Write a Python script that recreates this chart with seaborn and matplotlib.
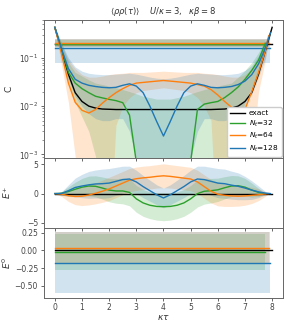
import numpy as np
import matplotlib
matplotlib.use("Agg")
import matplotlib.pyplot as plt
import matplotlib.lines as mlines
import seaborn as sns

# ---------------- data ----------------
tau_exact = np.arange(33) * 0.25
tau_32 = np.arange(32) * 0.25
tau_64 = np.append(np.arange(32) * 0.25, 7.875)
tau_128 = np.append(np.arange(32) * 0.25, 7.9375)

OFF = 1e-5  # below the visible range (non-positive estimate)

c_exact = [0.43, 0.14, 0.046, 0.019, 0.0125, 0.0100, 0.0091, 0.0087, 0.0086,
           0.0085, 0.0085, 0.0085, 0.0085, 0.0085, 0.0085, 0.0085, 0.0085,
           0.0085, 0.0085, 0.0085, 0.0085, 0.0085, 0.0085, 0.0085,
           0.0086, 0.0087, 0.0091, 0.0100, 0.0125, 0.019, 0.046, 0.14, 0.43]
c_32 = [0.43, 0.15, 0.05, 0.03, 0.023, 0.019, 0.016, 0.0148, 0.0138, 0.013, 0.0118,
        0.0065, 0.0007, OFF, OFF, OFF, OFF, OFF, OFF, OFF, 0.0007, 0.0085, 0.011,
        0.0118, 0.0125, 0.015, 0.019, 0.025, 0.036, 0.055, 0.09, 0.2]
c_32_hi = [0.45, 0.2, 0.08, 0.05, 0.042, 0.035, 0.03, 0.028, 0.026, 0.024, 0.022,
           0.02, 0.018, 0.016, 0.015, 0.014, 0.014, 0.014, 0.015, 0.016, 0.018, 0.02,
           0.022, 0.024, 0.026, 0.028, 0.03, 0.04, 0.055, 0.08, 0.13, 0.24]
c_32_lo = [0.41, 0.1, 0.03, 0.012, 0.006, 0.003, 0.0009] + [OFF] * 19 + \
          [0.0009, 0.004, 0.012, 0.025, 0.05, 0.17]
c_64 = [0.43, 0.12, 0.03, 0.012, 0.0082, 0.0072, 0.0085, 0.0115, 0.015, 0.019, 0.023,
        0.027, 0.030, 0.031, 0.032, 0.033, 0.034, 0.033, 0.032, 0.031, 0.030, 0.028,
        0.026, 0.022, 0.017, 0.0125, 0.0095, 0.0072, 0.0085, 0.02, 0.05, 0.14, 0.29]
c_64_hi = [0.45, 0.18, 0.09, 0.06, 0.045, 0.04, 0.04, 0.042, 0.045, 0.047, 0.048,
           0.05, 0.05, 0.05, 0.051, 0.052, 0.053, 0.052, 0.051, 0.05, 0.05, 0.05,
           0.048, 0.047, 0.045, 0.042, 0.04, 0.04, 0.045, 0.06, 0.1, 0.22, 0.32]
c_64_lo = [0.41, 0.07, 0.012, 0.0009] + [OFF] * 5 + \
          [0.004, 0.01, 0.015, 0.019, 0.021, 0.022, 0.023, 0.024, 0.023, 0.022,
           0.021, 0.019, 0.015, 0.01, 0.005] + [OFF] * 5 + [0.001, 0.02, 0.09, 0.26]
c_128 = [0.43, 0.15, 0.06, 0.036, 0.030, 0.027, 0.0255, 0.0245, 0.024, 0.0245, 0.027,
         0.029, 0.026, 0.019, 0.010, 0.0048, 0.0024, 0.0048, 0.010, 0.019, 0.026,
         0.029, 0.027, 0.0245, 0.024, 0.0245, 0.0255, 0.028, 0.033, 0.045, 0.075,
         0.16, 0.33]
c_128_hi = [0.45, 0.2, 0.1, 0.065, 0.053, 0.048, 0.046, 0.045, 0.045, 0.046, 0.047,
            0.048, 0.046, 0.043, 0.04, 0.038, 0.037, 0.038, 0.04, 0.043, 0.046, 0.048,
            0.047, 0.046, 0.045, 0.045, 0.046, 0.048, 0.055, 0.07, 0.11, 0.22, 0.36]
c_128_lo = [0.41, 0.1, 0.035, 0.016, 0.01, 0.007, 0.0055, 0.005, 0.005, 0.0055,
            0.0055, 0.003, 0.0008] + [OFF] * 7 + \
           [0.0008, 0.003, 0.0055, 0.0055, 0.005, 0.005, 0.0055, 0.007, 0.01, 0.018,
            0.04, 0.1, 0.3]

# constant levels shown in the C panel (value, low, high)
cflat_exact = 0.19
cflat_32 = [0.19, 0.17, 0.24]
cflat_64 = [0.20, 0.17, 0.245]
cflat_128 = [0.16, 0.079, 0.245]

# E+ panel
ep_exact = 0.0
ep_32 = [0, 0.05, 0.35, 0.75, 1.1, 1.3, 1.25, 0.95, 0.6, 0.45, 0.45, 0.2, -0.9, -1.6,
         -2.0, -2.2, -2.25, -2.2, -2.0, -1.6, -0.9, 0.0, 0.4, 0.5, 0.65, 1.0, 1.3,
         1.35, 1.1, 0.6, 0.2, 0]
ep_32_err = [0, 0.3, 0.8, 1.2, 1.5, 1.7, 1.8, 1.9, 2.0, 2.1, 2.2, 2.3, 2.3, 2.3, 2.3,
             2.35, 2.4, 2.35, 2.3, 2.3, 2.3, 2.3, 2.2, 2.1, 2.0, 1.9, 1.8, 1.7, 1.5,
             1.2, 0.7, 0]
ep_64 = [0, -0.1, -0.35, -0.5, -0.45, -0.25, 0.05, 0.4, 0.8, 1.3, 1.8, 2.3, 2.55,
         2.7, 2.8, 2.95, 3.05, 2.95, 2.8, 2.65, 2.5, 2.0, 1.2, 0.4, -0.1, -0.3, -0.4,
         -0.45, -0.4, -0.3, -0.2, -0.05, 0]
ep_64_err = [0, 0.4, 1.0, 1.4, 1.6, 1.7, 1.8, 1.9, 2.0, 2.0, 2.0, 2.0, 2.0, 2.0, 2.0,
             2.0, 2.05, 2.0, 2.0, 2.0, 2.0, 2.0, 2.0, 2.0, 2.0, 1.9, 1.8, 1.7, 1.6,
             1.4, 1.0, 0.4, 0]
ep_128 = [0, 0.02, 0.5, 1.05, 1.3, 1.5, 1.65, 1.7, 1.8, 2.1, 2.4, 2.5, 2.0, 1.2, 0.5,
          -0.2, -0.75, -0.2, 0.5, 1.2, 2.0, 2.5, 2.4, 2.1, 1.8, 1.7, 1.45, 1.25, 0.95,
          0.6, 0.3, 0.08, 0]
ep_128_err = [0, 0.3, 1.0, 1.6, 2.0, 2.3, 2.4, 2.5, 2.5, 2.4, 2.3, 2.2, 2.0, 1.9,
              1.8, 1.7, 1.7, 1.7, 1.8, 1.9, 2.0, 2.2, 2.3, 2.4, 2.5, 2.5, 2.4, 2.3,
              2.0, 1.6, 1.0, 0.3, 0]

# E0 panel (value, low, high)
e0_exact = 0.0
e0_32 = [-0.02, -0.27, 0.23]
e0_64 = [0.035, -0.19, 0.26]
e0_128 = [-0.183, -0.60, 0.26]

labels = ["exact", "$N_t$=32", "$N_t$=64", "$N_t$=128"]
col_exact = "black"
col_32 = "#2ca02c"
col_64 = "#ff7f0e"
col_128 = "#1f77b4"

# ---------------- style ----------------
plt.rcParams.update({
    "font.family": ["DejaVu Sans"],
    "font.size": 5.5,
    "axes.edgecolor": "#666666",
    "xtick.color": "#666666",
    "ytick.color": "#666666",
    "xtick.labelcolor": "#444444",
    "ytick.labelcolor": "#444444",
    "axes.labelcolor": "#333333",
    "xtick.labelsize": 5.5,
    "ytick.labelsize": 5.5,
    "axes.labelsize": 6.5,
    "axes.linewidth": 0.7,
    "xtick.major.size": 2.5,
    "ytick.major.size": 2.5,
    "ytick.minor.size": 1.5,
    "xtick.major.pad": 1.5,
    "ytick.major.pad": 1.8,
    "xtick.major.width": 0.7,
    "ytick.major.width": 0.7,
    "ytick.minor.width": 0.5,
})

fig = plt.figure(figsize=(2.91, 3.27), dpi=100)
gs = fig.add_gridspec(3, 1, height_ratios=[138, 70, 69.5], hspace=0,
                      left=0.151, right=0.9725, top=0.9388, bottom=0.0902)
ax1 = fig.add_subplot(gs[0])
ax2 = fig.add_subplot(gs[1], sharex=ax1)
ax3 = fig.add_subplot(gs[2], sharex=ax1)

LW = 1.0
ALPHA = 0.2
series = [(tau_32, col_32), (tau_64, col_64), (tau_128, col_128)]

# ---- C panel ----
ax1.set_yscale("log")
for (t, c), lo, hi in zip(series, [c_32_lo, c_64_lo, c_128_lo], [c_32_hi, c_64_hi, c_128_hi]):
    ax1.fill_between(t, lo, hi, color=c, alpha=ALPHA, lw=0)
for (t, c), fl in zip(series, [cflat_32, cflat_64, cflat_128]):
    ax1.fill_between(t, np.full(len(t), fl[1]), np.full(len(t), fl[2]), color=c, alpha=ALPHA, lw=0)
sns.lineplot(x=tau_exact, y=np.full(len(tau_exact), cflat_exact), ax=ax1, color=col_exact, lw=LW)
for (t, c), fl in zip(series, [cflat_32, cflat_64, cflat_128]):
    sns.lineplot(x=t, y=np.full(len(t), fl[0]), ax=ax1, color=c, lw=LW)
sns.lineplot(x=tau_exact, y=c_exact, ax=ax1, color=col_exact, lw=LW, label=labels[0])
for (t, c), v, lab in zip(series, [c_32, c_64, c_128], labels[1:]):
    sns.lineplot(x=t, y=v, ax=ax1, color=c, lw=LW, label=lab, sort=False)
ax1.set_ylim(8.4e-4, 0.61)
ax1.set_ylabel("C", labelpad=1)
ax1.legend(loc="lower right", fontsize=5.3, handlelength=2.0, borderpad=0.4,
           labelspacing=0.3, handletextpad=0.6, framealpha=1.0, edgecolor="#cccccc",
           borderaxespad=0.2)
ax1.set_title(r"$\langle\rho\rho(\tau)\rangle$    $U/\kappa=3,\ \ \kappa\beta=8$",
              fontsize=6, color="#333333", pad=4)

# ---- E+ panel ----
for (t, c), v, e in zip(series, [ep_32, ep_64, ep_128], [ep_32_err, ep_64_err, ep_128_err]):
    v = np.asarray(v); e = np.asarray(e)
    ax2.fill_between(t, v - e, v + e, color=c, alpha=ALPHA, lw=0)
sns.lineplot(x=tau_exact, y=np.full(len(tau_exact), ep_exact), ax=ax2, color=col_exact, lw=LW)
for (t, c), v in zip(series, [ep_32, ep_64, ep_128]):
    sns.lineplot(x=t, y=v, ax=ax2, color=c, lw=LW, sort=False)
ax2.set_ylim(-5.9, 6.1)
ax2.set_yticks([-5, 0, 5])
ax2.set_ylabel(r"$E^{+}$", labelpad=1)

# ---- E0 panel ----
for (t, c), e in zip(series, [e0_32, e0_64, e0_128]):
    ax3.fill_between(t, np.full(len(t), e[1]), np.full(len(t), e[2]), color=c, alpha=ALPHA, lw=0)
sns.lineplot(x=tau_exact, y=np.full(len(tau_exact), e0_exact), ax=ax3, color=col_exact, lw=LW)
for (t, c), e in zip(series, [e0_32, e0_64, e0_128]):
    sns.lineplot(x=t, y=np.full(len(t), e[0]), ax=ax3, color=c, lw=LW)
ax3.set_ylim(-0.665, 0.316)
ax3.set_yticks([0.25, 0.0, -0.25, -0.5])
ax3.set_ylabel(r"$E^{0}$", labelpad=1)
ax3.set_xlabel(r"$\kappa\tau$", labelpad=1)

for ax in (ax1, ax2, ax3):
    ax.set_xlim(-0.4, 8.4)
    ax.set_xticks(range(9))
    ax.tick_params(axis="x", top=True, direction="out")
    for tk in ax.xaxis.get_major_ticks():
        tk.tick2line.set_marker(mlines.TICKDOWN)
for ax in (ax1, ax2):
    ax.tick_params(axis="x", labelbottom=False)

fig.align_ylabels([ax1, ax2, ax3])
fig.savefig("out.png", dpi=100)
